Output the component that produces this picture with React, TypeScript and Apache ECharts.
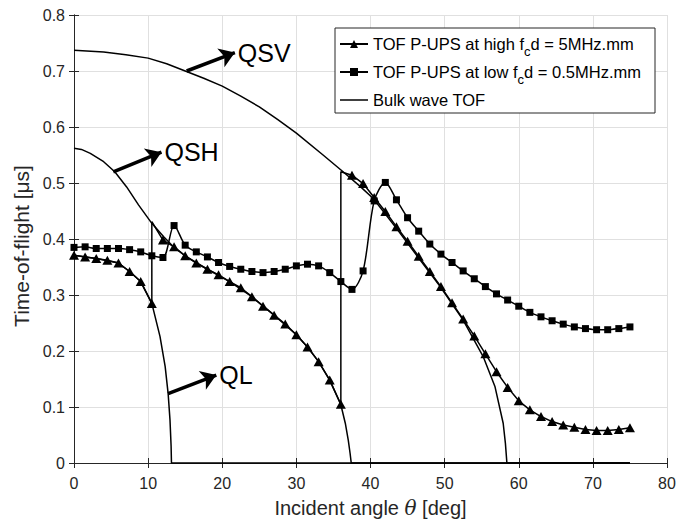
import React, { useEffect, useRef } from 'react';
import * as echarts from 'echarts';

// Incident angles of the P-UPS markers [deg]
const angles = [0, 1.5, 3, 4.5, 6, 7.5, 9, 10.5, 12, 13.5, 15, 16.5, 18, 19.5, 21, 22.5, 24, 25.5, 27, 28.5, 30, 31.5, 33, 34.5, 36, 37.5, 39, 40.5, 42, 43.5, 45, 46.5, 48, 49.5, 51, 52.5, 54, 55.5, 57, 58.5, 60, 61.5, 63, 64.5, 66, 67.5, 69, 70.5, 72, 73.5, 75];

// TOF P-UPS at high fcd = 5 MHz.mm [us]
const highTOF = [0.371, 0.368, 0.365, 0.362, 0.357, 0.342, 0.324, 0.285, 0.398, 0.386, 0.370, 0.357, 0.346, 0.336, 0.324, 0.313, 0.297, 0.280, 0.264, 0.248, 0.229, 0.207, 0.181, 0.148, 0.105, 0.514, 0.499, 0.474, 0.449, 0.422, 0.396, 0.369, 0.342, 0.315, 0.286, 0.257, 0.227, 0.195, 0.163, 0.135, 0.111, 0.095, 0.083, 0.074, 0.068, 0.064, 0.060, 0.058, 0.058, 0.060, 0.063];
// jumps of the high-fcd curve onto the next bulk branch [angle, TOF]
const highJumps = [[10.5, 0.431], [36, 0.52]];

// TOF P-UPS at low fcd = 0.5 MHz.mm [us]
const lowTOF = [0.385, 0.386, 0.383, 0.383, 0.383, 0.381, 0.377, 0.370, 0.367, 0.424, 0.389, 0.377, 0.368, 0.358, 0.351, 0.346, 0.342, 0.340, 0.342, 0.346, 0.352, 0.355, 0.352, 0.340, 0.324, 0.310, 0.343, 0.468, 0.501, 0.470, 0.438, 0.414, 0.391, 0.373, 0.358, 0.343, 0.329, 0.315, 0.302, 0.291, 0.280, 0.269, 0.261, 0.254, 0.248, 0.243, 0.240, 0.238, 0.238, 0.240, 0.243];

// Bulk wave TOF curves
const qlAngle = [0, 3, 6, 7.5, 9, 10.5, 11.6, 12.3, 12.7, 12.95, 13.1, 13.15, 75];
const qlTOF = [0.371, 0.365, 0.357, 0.342, 0.324, 0.285, 0.226, 0.172, 0.124, 0.077, 0.03, 0, 0];

const qshAngle = [0, 1, 2.2, 4, 5.5, 7.1, 8.7, 10.5, 12.1, 13.4, 15, 18, 21, 24, 27, 30, 31.5, 33, 34.5, 36, 36.6, 37.0, 37.25, 37.4, 75];
const qshTOF = [0.562, 0.560, 0.553, 0.538, 0.520, 0.493, 0.461, 0.428, 0.404, 0.386, 0.370, 0.346, 0.324, 0.297, 0.264, 0.229, 0.207, 0.181, 0.148, 0.104, 0.071, 0.041, 0.017, 0, 0];

const qsvAngle = [0, 4, 7, 10, 12.5, 15, 17.5, 20, 22.5, 25, 27.5, 30, 33.6, 36.3, 38.6, 40.4, 43.5, 46.5, 49.4, 52.5, 55.2, 56.8, 57.9, 58.2, 58.4, 75];
const qsvTOF = [0.737, 0.734, 0.729, 0.723, 0.713, 0.700, 0.687, 0.673, 0.655, 0.636, 0.613, 0.589, 0.550, 0.520, 0.494, 0.472, 0.419, 0.366, 0.315, 0.255, 0.190, 0.136, 0.071, 0.035, 0, 0];

// Annotation arrows: [label, tailAngle, tailTOF, headAngle, headTOF]
const annotations: [string, number, number, number, number][] = [
  ['QSV', 15.2, 0.700, 21.7, 0.733],
  ['QSH', 5.3, 0.520, 11.8, 0.555],
  ['QL', 12.7, 0.124, 19.2, 0.157],
];

const xTicks = { min: 0, max: 80, interval: 10 };
const yTicks = { min: 0, max: 0.8, interval: 0.1 };

const FONT = "'Liberation Sans', Arial, Helvetica, sans-serif";
const AXIS = '#262626';

export default function App() {
  const ref = useRef<HTMLDivElement>(null);
  useEffect(() => {
    document.body.style.margin = '0';
    const chart = echarts.init(ref.current!, null, { renderer: 'svg' });

    const highData: any[] = [];
    angles.forEach((a, i) => {
      highData.push([a, highTOF[i]]);
      highJumps.forEach((j) => {
        if (j[0] === a) highData.push({ value: [j[0], j[1]], symbol: 'none' });
      });
    });
    const lowData = angles.map((a, i) => [a, lowTOF[i]]);
    const zip = (xs: number[], ys: number[]) => xs.map((x, i) => [x, ys[i]]);

    const bulkStyle = {
      type: 'line' as const,
      name: 'Bulk wave TOF',
      symbol: 'none',
      clip: false,
      lineStyle: { color: '#000', width: 1.5 },
      itemStyle: { color: '#000' },
      z: 3,
    };

    const option: any = {
      animation: false,
      backgroundColor: '#fff',
      textStyle: { fontFamily: FONT },
      grid: { left: 74, right: 27, top: 15, bottom: 61 },
      xAxis: [
        {
          type: 'value', ...xTicks,
          name: 'Incident angle {it|θ} [deg]',
          nameLocation: 'middle', nameGap: 35,
          nameTextStyle: { fontSize: 20, color: AXIS, fontFamily: FONT, rich: { it: { fontSize: 20, fontStyle: 'italic', fontFamily: "'DejaVu Serif', serif", color: AXIS } } },
          axisLine: { show: true, lineStyle: { color: AXIS, width: 1 } },
          axisTick: { show: true, inside: true, length: 5, lineStyle: { color: AXIS } },
          axisLabel: { fontSize: 16, color: AXIS, margin: 12, fontFamily: FONT },
          splitLine: { show: true, lineStyle: { color: '#e0e0e0', width: 1 } },
        },
        {
          type: 'value', ...xTicks, position: 'top',
          axisLine: { show: true, lineStyle: { color: AXIS, width: 1 } },
          axisTick: { show: true, inside: true, length: 5, lineStyle: { color: AXIS } },
          axisLabel: { show: false },
          splitLine: { show: false },
        },
      ],
      yAxis: [
        {
          type: 'value', ...yTicks,
          name: 'Time-of-flight [μs]',
          nameLocation: 'middle', nameGap: 37,
          nameTextStyle: { fontSize: 21, color: AXIS, fontFamily: FONT, padding: [0, 14, 0, 0] },
          axisLine: { show: true, lineStyle: { color: AXIS, width: 1 } },
          axisTick: { show: true, inside: true, length: 5, lineStyle: { color: AXIS } },
          axisLabel: { fontSize: 16, color: AXIS, margin: 9, fontFamily: FONT },
          splitLine: { show: true, lineStyle: { color: '#e0e0e0', width: 1 } },
        },
        {
          type: 'value', ...yTicks, position: 'right',
          axisLine: { show: true, lineStyle: { color: AXIS, width: 1 } },
          axisTick: { show: true, inside: true, length: 5, lineStyle: { color: AXIS } },
          axisLabel: { show: false },
          splitLine: { show: false },
        },
      ],
      legend: {
        data: ['high', 'low', { name: 'Bulk wave TOF', icon: 'path://M0,0L28,0L28,1.5L0,1.5Z' }],
        orient: 'vertical',
        left: 339, top: 30,
        padding: 0,
        itemGap: 0,
        itemWidth: 28, itemHeight: 10,
        z: 20,
        formatter: (name: string) =>
          name === 'high'
            ? 'TOF P-UPS at high f{sub|c}d = 5MHz.mm'
            : name === 'low'
            ? 'TOF P-UPS at low f{sub|c}d = 0.5MHz.mm'
            : name,
        textStyle: {
          fontSize: 16.5, color: '#000', fontFamily: FONT, lineHeight: 28,
          rich: { sub: { fontSize: 13, lineHeight: 6, verticalAlign: 'bottom', color: '#000', fontFamily: FONT } },
        },
      },
      graphic: [
        {
          type: 'rect', z: 10,
          shape: { x: 335, y: 28, width: 320, height: 85 },
          style: { fill: '#fff', stroke: AXIS, lineWidth: 1 },
        },
      ],
      series: [
        { ...bulkStyle, data: zip(qlAngle, qlTOF) },
        { ...bulkStyle, data: zip(qshAngle, qshTOF) },
        {
          ...bulkStyle, data: zip(qsvAngle, qsvTOF),
          markLine: {
            silent: true, animation: false,
            symbol: ['none', 'arrow'], symbolSize: 15,
            label: { show: false },
            lineStyle: { color: '#000', width: 3.5, type: 'solid', opacity: 1 },
            data: annotations.map((a) => [{ coord: [a[1], a[2]] }, { coord: [a[3], a[4]] }]),
          },
          markPoint: {
            silent: true, animation: false,
            symbol: 'circle', symbolSize: 0,
            itemStyle: { color: 'transparent' },
            label: { show: true, position: 'right', distance: 3, formatter: '{b}', fontSize: 25, color: '#000', fontFamily: FONT },
            data: annotations.map((a) => ({ name: a[0], coord: [a[3], a[4]] })),
          },
        },
        {
          type: 'line', name: 'high', data: highData,
          symbol: 'triangle', symbolSize: [10, 9],
          lineStyle: { color: '#000', width: 1.5 },
          itemStyle: { color: '#000' },
          z: 4,
        },
        {
          type: 'line', name: 'low', data: lowData,
          symbol: 'rect', symbolSize: 7, smooth: 0.3,
          lineStyle: { color: '#000', width: 1.5 },
          itemStyle: { color: '#000' },
          z: 4,
        },
      ],
    };
    chart.setOption(option);
    return () => chart.dispose();
  }, []);
  return <div ref={ref} style={{ width: 694, height: 524 }} />;
}
